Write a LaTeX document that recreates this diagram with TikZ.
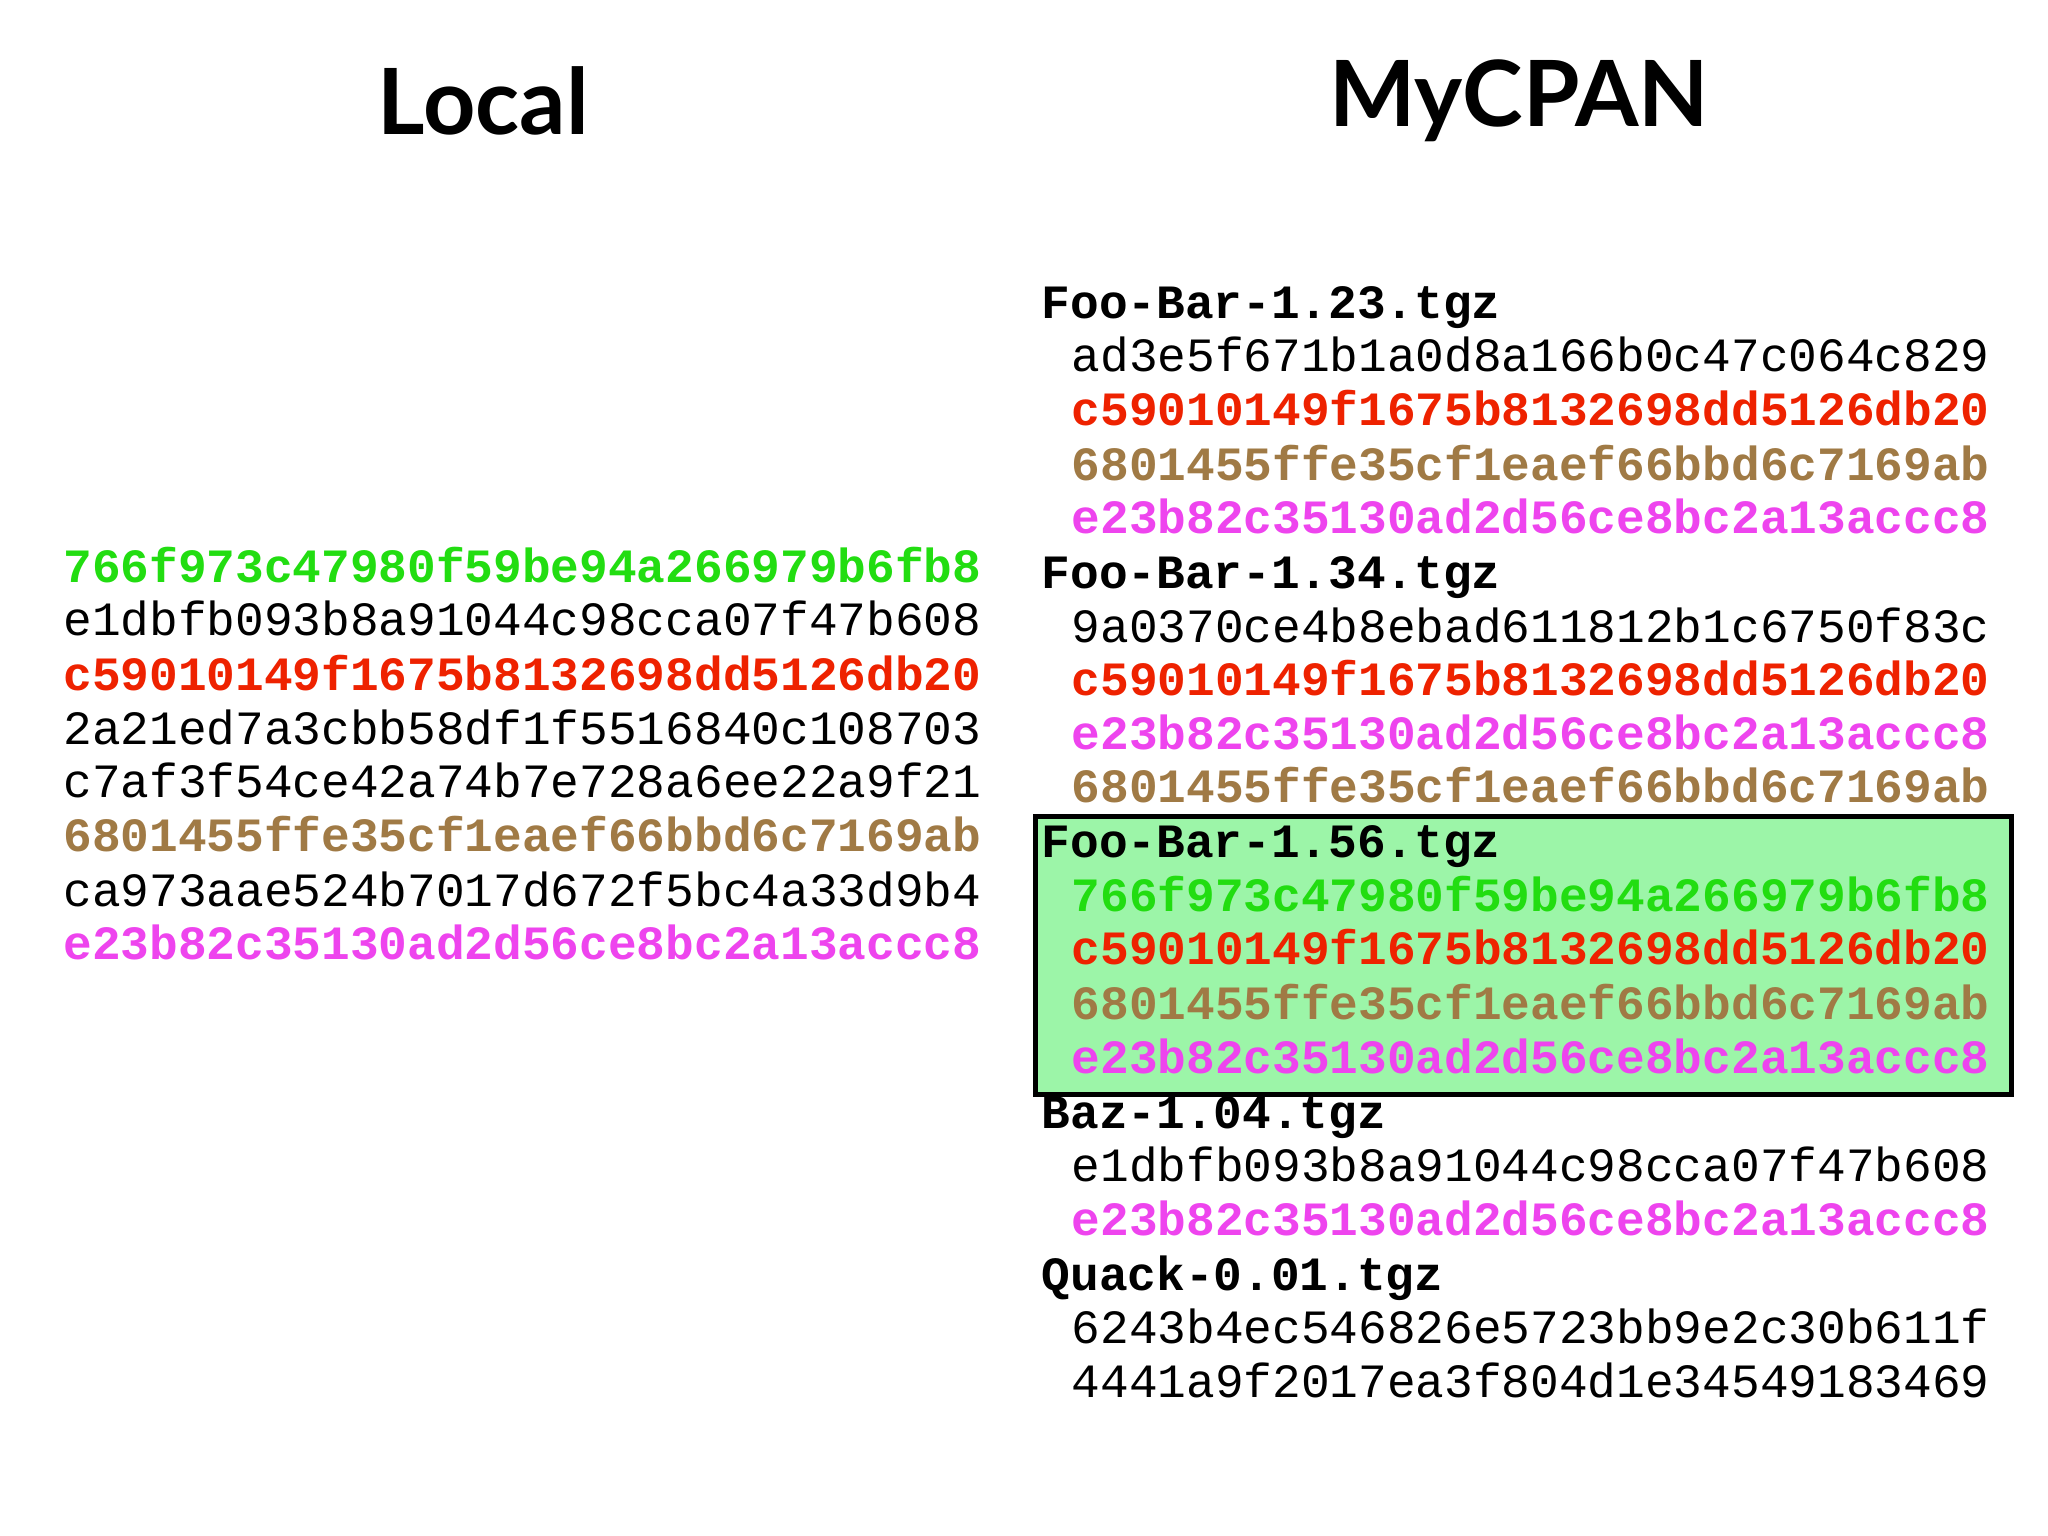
\documentclass[tikz,border=0pt]{standalone}
\usepackage{fontspec}
\setmonofont{Liberation Mono}
\newfontfamily\titlefont{Lato}
\definecolor{hg}{HTML}{22DD11}
\definecolor{hr}{HTML}{EE2200}
\definecolor{hb}{HTML}{A07A45}
\definecolor{hm}{HTML}{EE44EE}
\definecolor{boxfill}{HTML}{9CF5A8}
\begin{document}
\begin{tikzpicture}[x=0.013061cm,y=-0.013061cm,
  h/.style={anchor=mid west,inner sep=0pt,yshift=-0.09cm,font=\fontsize{13.6}{15}\selectfont\ttfamily},
  hb/.style={h,font=\fontsize{13.6}{15}\selectfont\ttfamily\bfseries},
  ttl/.style={inner sep=0pt,font=\fontsize{26}{30}\selectfont\titlefont\bfseries}]
\useasboundingbox[fill=white] (0,0) rectangle (1568,1176);
\node[ttl] (tl) at (370,77) {Local};
\node[ttl] (tm) at (1163,77) {MyCPAN};
% left
\node[hb,text=hg] (l1) at (48,433) {766f973c47980f59be94a266979b6fb8};
\node[h] (l2) at (48,474) {e1dbfb093b8a91044c98cca07f47b608};
\node[hb,text=hr] (l3) at (48,516) {c59010149f1675b8132698dd5126db20};
\node[h] (l4) at (48,557) {2a21ed7a3cbb58df1f5516840c108703};
\node[h] (l5) at (48,598) {c7af3f54ce42a74b7e728a6ee22a9f21};
\node[hb,text=hb] (l6) at (48,639) {6801455ffe35cf1eaef66bbd6c7169ab};
\node[h] (l7) at (48,681) {ca973aae524b7017d672f5bc4a33d9b4};
\node[hb,text=hm] (l8) at (48,722) {e23b82c35130ad2d56ce8bc2a13accc8};
% box
\node[draw=black,line width=1.5pt,fill=boxfill,inner sep=0pt,minimum width=747*0.013061cm,minimum height=213*0.013061cm,anchor=north west] (box) at (791,623) {};
% right
\node[hb] (r1) at (797,231) {Foo-Bar-1.23.tgz};
\node[h] (r2) at (820,272) {ad3e5f671b1a0d8a166b0c47c064c829};
\node[hb,text=hr] (r3) at (820,313) {c59010149f1675b8132698dd5126db20};
\node[hb,text=hb] (r4) at (820,355) {6801455ffe35cf1eaef66bbd6c7169ab};
\node[hb,text=hm] (r5) at (820,396) {e23b82c35130ad2d56ce8bc2a13accc8};
\node[hb] (r6) at (797,438) {Foo-Bar-1.34.tgz};
\node[h] (r7) at (820,479) {9a0370ce4b8ebad611812b1c6750f83c};
\node[hb,text=hr] (r8) at (820,520) {c59010149f1675b8132698dd5126db20};
\node[hb,text=hm] (r9) at (820,561) {e23b82c35130ad2d56ce8bc2a13accc8};
\node[hb,text=hb] (r10) at (820,602) {6801455ffe35cf1eaef66bbd6c7169ab};
\node[hb] (r11) at (797,644) {Foo-Bar-1.56.tgz};
\node[hb,text=hg] (r12) at (820,685) {766f973c47980f59be94a266979b6fb8};
\node[hb,text=hr] (r13) at (820,726) {c59010149f1675b8132698dd5126db20};
\node[hb,text=hb] (r14) at (820,768) {6801455ffe35cf1eaef66bbd6c7169ab};
\node[hb,text=hm] (r15) at (820,809) {e23b82c35130ad2d56ce8bc2a13accc8};
\node[hb] (r16) at (797,851) {Baz-1.04.tgz};
\node[h] (r17) at (820,892) {e1dbfb093b8a91044c98cca07f47b608};
\node[hb,text=hm] (r18) at (820,933) {e23b82c35130ad2d56ce8bc2a13accc8};
\node[hb] (r19) at (797,975) {Quack-0.01.tgz};
\node[h] (r20) at (820,1016) {6243b4ec546826e5723bb9e2c30b611f};
\node[h] (r21) at (820,1057) {4441a9f2017ea3f804d1e34549183469};
\end{tikzpicture}
\end{document}
